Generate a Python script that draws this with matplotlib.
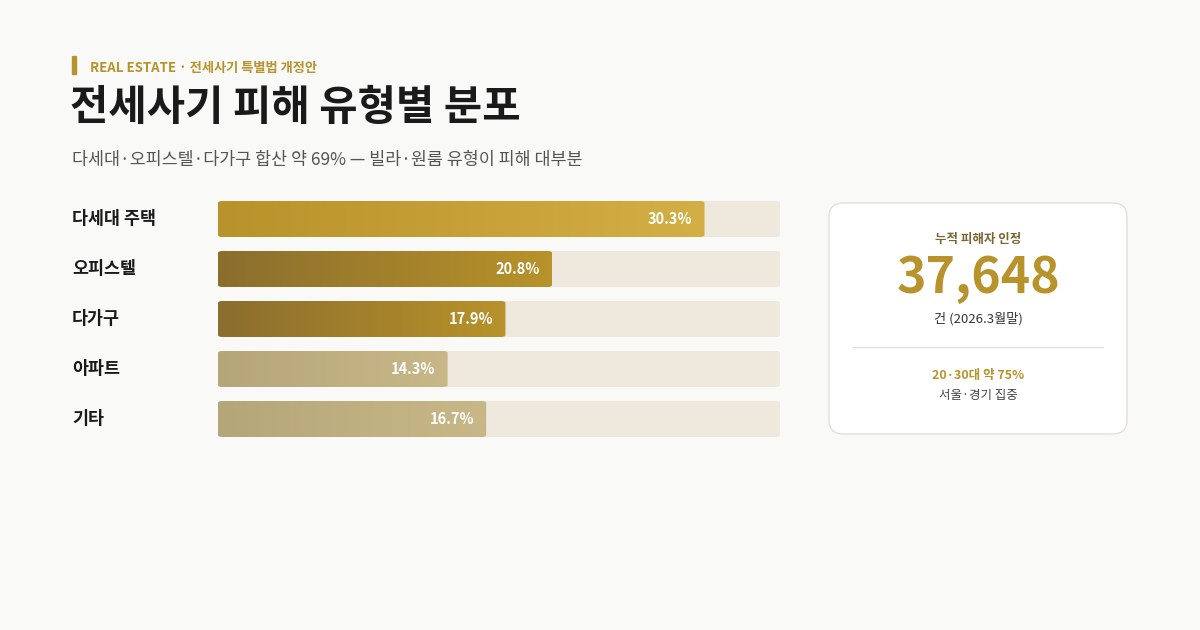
import numpy as np
import matplotlib
matplotlib.use("Agg")
from matplotlib import pyplot as plt
from matplotlib.patches import FancyBboxPatch, Rectangle
from matplotlib.colors import LinearSegmentedColormap

plt.rcParams['font.family'] = ['Noto Sans CJK KR', 'DejaVu Sans']

categories = ["다세대 주택", "오피스텔", "다가구", "아파트", "기타"]
shares = [30.3, 20.8, 17.9, 14.3, 16.7]
bar_colors = [("#B8922A", "#D4AF45"), ("#8B6E2E", "#B8922A"), ("#8B6E2E", "#B8922A"),
              ("#B5A67A", "#C8B888"), ("#B5A67A", "#C8B888")]
scale_max = 35

W, H = 1200, 630
fig = plt.figure(figsize=(12, 6.3), dpi=100)
fig.patch.set_facecolor("#F9F9F7")
bg = fig.add_axes([0, 0, 1, 1])
bg.set_xlim(0, W)
bg.set_ylim(H, 0)
bg.axis("off")

# header
bg.add_patch(Rectangle((72, 56), 3.5, 18, color="#B8922A"))
bg.text(90, 68, "REAL ESTATE · 전세사기 특별법 개정안", fontsize=9.5, fontweight="bold",
        color="#B8922A", va="center")
bg.text(70, 108, "전세사기 피해 유형별 분포", fontsize=30, fontweight="bold",
        color="#1A1A1A", va="center")
bg.text(72, 160, "다세대·오피스텔·다가구 합산 약 69% — 빌라·원룸 유형이 피해 대부분",
        fontsize=12.5, color="#555555", va="center")

# category labels
for i, c in enumerate(categories):
    bg.text(72, 219 + 50 * i, c, fontsize=12.5, fontweight="bold", color="#1A1A1A", va="center")

# bars
ax = fig.add_axes([218 / W, 1 - 437 / H, (780 - 218) / W, 236 / H])
ax.set_xlim(0, scale_max)
ax.set_ylim(4.36, -0.36)
ax.axis("off")
ax.patch.set_alpha(0)
h = 0.72
for i, v in enumerate(shares):
    track = FancyBboxPatch((0, i - h / 2), scale_max, h, boxstyle="round,pad=0,rounding_size=0.3",
                           mutation_aspect=0.13, fc="#EFE8DC", ec="none")
    ax.add_patch(track)
    bar = FancyBboxPatch((0, i - h / 2), v, h, boxstyle="round,pad=0,rounding_size=0.3",
                         mutation_aspect=0.13, fc="none", ec="none")
    ax.add_patch(bar)
    cmap = LinearSegmentedColormap.from_list("g", bar_colors[i])
    im = ax.imshow(np.linspace(0, 1, 256).reshape(1, -1), cmap=cmap, aspect="auto",
                   extent=(0, v, i + h / 2, i - h / 2), zorder=2)
    im.set_clip_path(bar)
    ax.text(v - 0.75, i, f"{v}%", color="white", fontsize=10.5, fontweight="bold",
            ha="right", va="center", zorder=3)
ax.set_xlim(0, scale_max)
ax.set_ylim(4.36, -0.36)

# card
bg.add_patch(FancyBboxPatch((829, 203), 298, 231, boxstyle="round,pad=0,rounding_size=14",
                            fc="white", ec="#E6E0D2", lw=1))
cx = 978
bg.text(cx, 239, "누적 피해자 인정", fontsize=9, fontweight="bold", color="#7A6430",
        ha="center", va="center")
bg.text(cx, 278, "37,648", fontsize=36, fontweight="bold", color="#B8922A",
        ha="center", va="center")
bg.text(cx, 319, "건 (2026.3월말)", fontsize=9.5, color="#333333", ha="center", va="center")
bg.plot([853, 1103], [347, 347], color="#E2DDD3", lw=1)
bg.text(cx, 375, "20·30대 약 75%", fontsize=9, fontweight="bold", color="#B8922A",
        ha="center", va="center")
bg.text(cx, 395, "서울·경기 집중", fontsize=9, color="#444444", ha="center", va="center")

fig.savefig("out.png", dpi=100, facecolor=fig.get_facecolor())
